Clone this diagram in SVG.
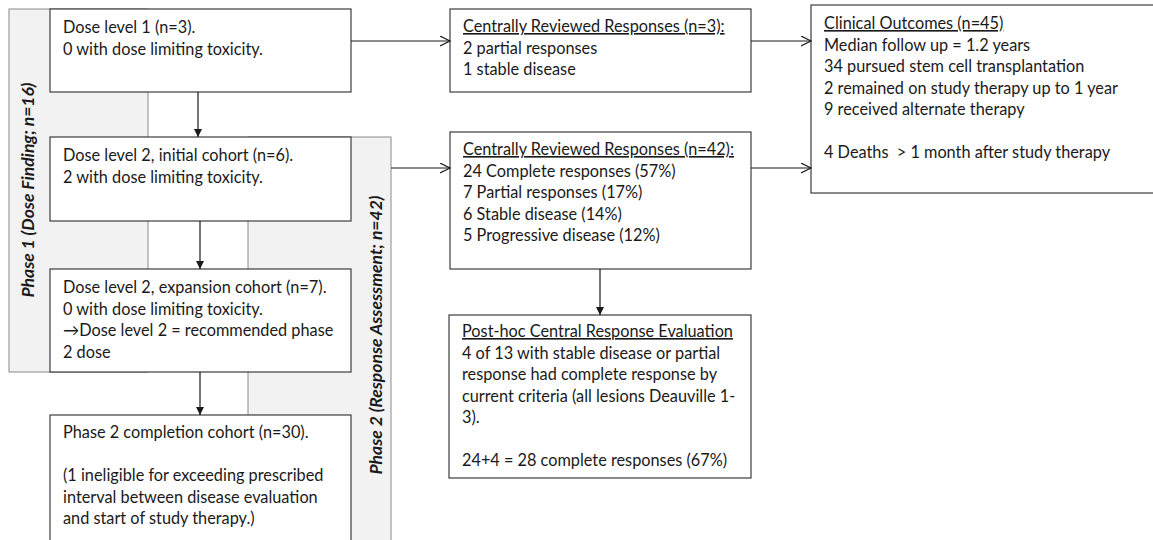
<svg xmlns="http://www.w3.org/2000/svg" width="1153" height="540" viewBox="0 0 1153 540">
<style>
.bg{fill:#ffffff}
.bar{fill:#f2f2f2;stroke:#8a8a8a;stroke-width:1}
.box{fill:#ffffff;stroke:#3c3c3c;stroke-width:1.2}
.t{font-family:Lato,"Open Sans",sans-serif;font-size:16.3px;fill:#1a1a1a}
.u{text-decoration:underline}
.ph{font-family:Lato,"Open Sans",sans-serif;font-size:17.5px;font-weight:bold;font-style:italic;fill:#1a1a1a;text-anchor:middle}
.c{stroke:#1a1a1a;stroke-width:1.2;fill:none}
</style>
<defs>
<marker id="tri" markerUnits="userSpaceOnUse" markerWidth="9" markerHeight="9" refX="8" refY="4" orient="auto">
<path d="M0,0 L8,4 L0,8 z" fill="#1a1a1a"/>
</marker>
<marker id="open" markerUnits="userSpaceOnUse" markerWidth="12" markerHeight="12" refX="10" refY="5" orient="auto">
<path d="M0,0 L10,5 L0,10" fill="none" stroke="#1a1a1a" stroke-width="1.2"/>
</marker>
</defs>
<rect class="bg" x="0" y="0" width="1153" height="540"/>
<g id="phase1">
<rect class="bar" x="9" y="9" width="139" height="363"/>
<text class="ph" transform="translate(34,190) rotate(-90)">Phase 1 (Dose Finding; n=16)</text>
</g>
<g id="phase2">
<rect class="bar" x="248" y="137" width="143" height="410"/>
<text class="ph" transform="translate(382,335) rotate(-90)">Phase 2 (Response Assessment; n=42)</text>
</g>
<g id="dose1">
<rect class="box" x="50" y="9" width="301" height="83"/>
<text class="t" x="63" y="33">Dose level 1 (n=3).<tspan x="63" dy="21.5">0 with dose limiting toxicity.</tspan></text>
</g>
<g id="dose2init">
<rect class="box" x="50" y="137" width="301" height="84"/>
<text class="t" x="63" y="161">Dose level 2, initial cohort (n=6).<tspan x="63" dy="21.5">2 with dose limiting toxicity.</tspan></text>
</g>
<g id="dose2exp">
<rect class="box" x="50" y="269" width="301" height="103"/>
<text class="t" x="63" y="293">Dose level 2, expansion cohort (n=7).<tspan x="63" dy="21.5">0 with dose limiting toxicity.</tspan><tspan x="63" dy="21.5">→Dose level 2 = recommended phase</tspan><tspan x="63" dy="21.5">2 dose</tspan></text>
</g>
<g id="phase2cohort">
<rect class="box" x="50" y="415" width="301" height="135"/>
<text class="t" x="63" y="438">Phase 2 completion cohort (n=30).<tspan x="63" dy="43">(1 ineligible for exceeding prescribed</tspan><tspan x="63" dy="21.5">interval between disease evaluation</tspan><tspan x="63" dy="21.5">and start of study therapy.)</tspan></text>
</g>
<g id="crr3">
<rect class="box" x="450" y="9" width="301" height="83"/>
<text class="t" x="463" y="32"><tspan class="u">Centrally Reviewed Responses (n=3):</tspan><tspan x="463" dy="21.5">2 partial responses</tspan><tspan x="463" dy="21.5">1 stable disease</tspan></text>
</g>
<g id="crr42">
<rect class="box" x="450" y="132" width="301" height="137"/>
<text class="t" x="463" y="155"><tspan class="u">Centrally Reviewed Responses (n=42):</tspan><tspan x="463" dy="21.5">24 Complete responses (57%)</tspan><tspan x="463" dy="21.5">7 Partial responses (17%)</tspan><tspan x="463" dy="21.5">6 Stable disease (14%)</tspan><tspan x="463" dy="21.5">5 Progressive disease (12%)</tspan></text>
</g>
<g id="posthoc">
<rect class="box" x="449" y="315" width="302" height="163"/>
<text class="t" x="462" y="337"><tspan class="u">Post-hoc Central Response Evaluation</tspan><tspan x="462" dy="21.5">4 of 13 with stable disease or partial</tspan><tspan x="462" dy="21.5">response had complete response by</tspan><tspan x="462" dy="21.5">current criteria (all lesions Deauville 1-</tspan><tspan x="462" dy="21.5">3).</tspan><tspan x="462" dy="43">24+4 = 28 complete responses (67%)</tspan></text>
</g>
<g id="outcomes">
<rect class="box" x="811" y="5" width="360" height="188"/>
<text class="t" x="824" y="29"><tspan class="u">Clinical Outcomes (n=45)</tspan><tspan x="824" dy="21.5">Median follow up = 1.2 years</tspan><tspan x="824" dy="21.5">34 pursued stem cell transplantation</tspan><tspan x="824" dy="21.5">2 remained on study therapy up to 1 year</tspan><tspan x="824" dy="21.5">9 received alternate therapy</tspan><tspan x="824" dy="43">4 Deaths&#160; &gt; 1 month after study therapy</tspan></text>
</g>
<g id="connectors">
<line class="c" x1="198" y1="92" x2="198" y2="137" marker-end="url(#tri)"/>
<line class="c" x1="200" y1="221" x2="200" y2="269" marker-end="url(#tri)"/>
<line class="c" x1="200" y1="372" x2="200" y2="415" marker-end="url(#tri)"/>
<line class="c" x1="600" y1="269" x2="600" y2="315" marker-end="url(#tri)"/>
<line class="c" x1="351" y1="41" x2="450" y2="41" marker-end="url(#open)"/>
<line class="c" x1="391" y1="168" x2="450" y2="168" marker-end="url(#open)"/>
<line class="c" x1="751" y1="41" x2="811" y2="41" marker-end="url(#open)"/>
<line class="c" x1="751" y1="168" x2="811" y2="168" marker-end="url(#open)"/>
</g>
</svg>
